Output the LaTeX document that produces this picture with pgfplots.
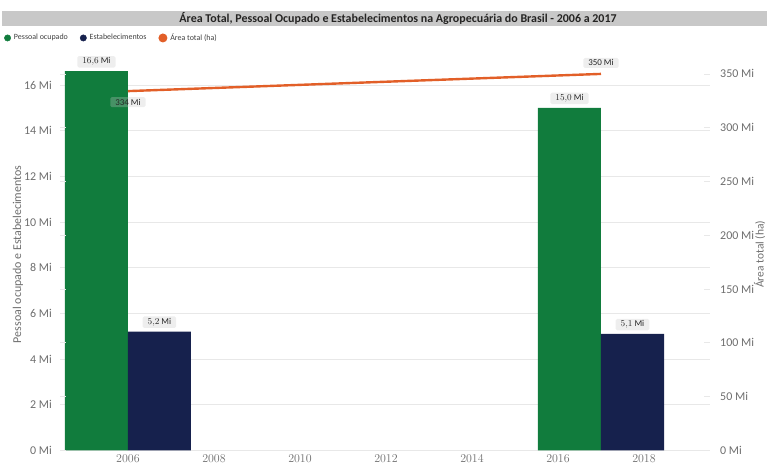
\documentclass[border=0pt]{standalone}
\usepackage{pgfplots}
\pgfplotsset{compat=1.18}
\usepackage{fontspec}
\setmainfont{Carlito}
\definecolor{cgreen}{RGB}{17,124,61}
\definecolor{cnavy}{RGB}{22,33,77}
\definecolor{corange}{RGB}{226,95,40}
\definecolor{ctick}{RGB}{110,110,110}
\definecolor{cgrid}{RGB}{232,232,232}
\definecolor{cband}{RGB}{200,200,200}
\definecolor{clab}{RGB}{198,198,198}
\definecolor{ctitle}{RGB}{37,36,35}
\tikzset{
  lab/.style={fill=clab, fill opacity=0.3, text opacity=1, rounded corners=1.5bp,
    inner xsep=5bp, inner ysep=1.8bp, font=\fontsize{9}{10}\selectfont, text=black!85},
}
\pgfplotsset{
  common/.style={
    at={(60bp,14.5bp)}, anchor=south west,
    width=650bp, height=392.5bp, scale only axis,
    xmin=2004.42, xmax=2019.535,
    axis line style={draw=none},
    tick label style={font=\fontsize{12}{14}\selectfont, text=ctick},
    label style={font=\fontsize{12}{14}\selectfont, text=ctick},
  },
}
\begin{document}
\begin{tikzpicture}[x=1bp,y=1bp]
\path[use as bounding box] (0,0) rectangle (767,465);
\fill[cband] (2,465-26) rectangle (767,465-11);
\node[font=\bfseries\fontsize{12}{14}\selectfont, text=ctitle] at (398,465-18.5)
  {Área Total, Pessoal Ocupado e Estabelecimentos na Agropecuária do Brasil - 2006 a 2017};

\begin{axis}[common,
  ymin=0, ymax=17.18,
  ytick={0,2,...,16},
  yticklabels={0 Mi,2 Mi,4 Mi,6 Mi,8 Mi,10 Mi,12 Mi,14 Mi,16 Mi},
  xtick={2006,2008,...,2018},
  xticklabel style={anchor=north, inner sep=0pt, yshift=-4.5bp},
  x tick label style={/pgf/number format/1000 sep={}},
  yticklabel style={anchor=east, inner sep=0pt, xshift=-8bp},
  major tick style={draw=none},
  ymajorgrids, grid style={cgrid, line width=0.8bp},
  ylabel={Pessoal ocupado e Estabelecimentos},
  ylabel style={at={(axis description cs:-0.0646,0.5)}, anchor=center},
  nodes near coords={\pgfmathprintnumber[fixed, precision=1, fixed zerofill, use comma]{\pgfplotspointmeta}~Mi},
  point meta=y,
]
\addplot[ybar, fill=cgreen, draw=none, bar width=1.465, bar shift=-0.7325,
  nodes near coords style={lab, anchor=south, yshift=3.5bp, xshift=-31.5bp}]
  coordinates {(2006,16.6) (2017,15.0)};
\addplot[ybar, fill=cnavy, draw=none, bar width=1.465, bar shift=0.7325,
  nodes near coords style={lab, anchor=south, yshift=3.5bp, xshift=31.5bp}]
  coordinates {(2006,5.2) (2017,5.1)};
\end{axis}

\begin{axis}[common,
  ymin=0, ymax=364.8,
  hide x axis,
  ytick={0,50,...,350},
  yticklabels={0 Mi,50 Mi,100 Mi,150 Mi,200 Mi,250 Mi,300 Mi,350 Mi},
  yticklabel pos=right,
  yticklabel style={anchor=west, inner sep=0pt, xshift=10bp},
  major tick style={draw=cgrid, line width=0.8bp},
  major tick length=6bp,
  ylabel={Área total (ha)},
  ylabel style={at={(axis description cs:1.0765,0.5)}, anchor=center, inner sep=0pt,
    font=\fontsize{11.5}{13}\selectfont},
  legend columns=3,
  legend style={at={(axis description cs:-0.0862,1.051)}, anchor=west,
    draw=none, fill=none, font=\fontsize{8}{9}\selectfont, text=black!75,
    inner sep=0pt,
    /tikz/every odd column/.append style={column sep=1bp},
    /tikz/every even column/.append style={column sep=10bp}},
  legend cell align=left,
]
\addlegendimage{legend image code/.code={\fill[cgreen] (3.5bp,0bp) circle (3.2bp);}}
\addlegendentry{Pessoal ocupado}
\addlegendimage{legend image code/.code={\fill[cnavy] (3.5bp,0bp) circle (3.2bp);}}
\addlegendentry{Estabelecimentos}
\addplot[corange, line width=2.4bp, mark=none,
  legend image code/.code={\fill[corange] (3.5bp,0bp) circle (3.2bp);}]
  coordinates {(2006,334) (2017,350)};
\addlegendentry{Área total (ha)}
\addplot[draw=none, mark=none, forget plot, nodes near coords, point meta=explicit symbolic,
  nodes near coords style={lab, anchor=center, yshift=-11bp}]
  coordinates {(2006,334) [334 Mi]};
\addplot[draw=none, mark=none, forget plot, nodes near coords, point meta=explicit symbolic,
  nodes near coords style={lab, anchor=center, yshift=11bp}]
  coordinates {(2017,350) [350 Mi]};
\end{axis}
\end{tikzpicture}
\end{document}
